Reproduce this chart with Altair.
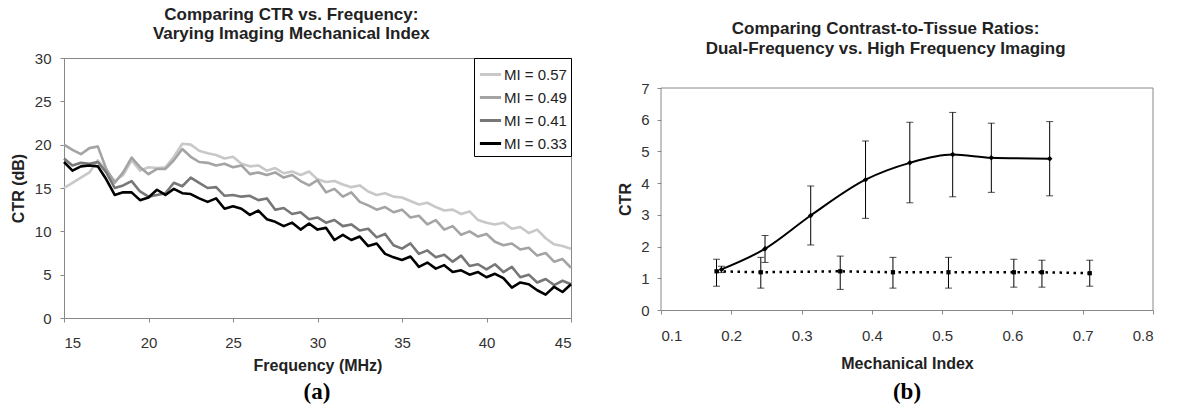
import altair as alt
import pandas as pd

FONT = "Liberation Sans"

# ---------------- Panel (a): CTR vs frequency ----------------
freq = [15.0, 15.5, 16.0, 16.5, 17.0, 17.5, 18.0, 18.5, 19.0, 19.5,
        20.0, 20.5, 21.0, 21.5, 22.0, 22.5, 23.0, 23.5, 24.0, 24.5,
        25.0, 25.5, 26.0, 26.5, 27.0, 27.5, 28.0, 28.5, 29.0, 29.5,
        30.0, 30.5, 31.0, 31.5, 32.0, 32.5, 33.0, 33.5, 34.0, 34.5,
        35.0, 35.5, 36.0, 36.5, 37.0, 37.5, 38.0, 38.5, 39.0, 39.5,
        40.0, 40.5, 41.0, 41.5, 42.0, 42.5, 43.0, 43.5, 44.0, 44.5, 45.0]

mi_057 = [15.0, 15.6, 16.2, 16.8, 18.2, 17.0, 15.8, 16.5, 18.2, 17.0,
          17.4, 17.3, 17.4, 18.6, 20.1, 20.0, 19.3, 19.0, 18.8, 18.4,
          18.6, 17.8, 17.5, 17.6, 17.0, 17.3, 16.7, 16.9, 16.5, 16.9,
          16.0, 15.7, 15.8, 15.4, 15.1, 15.3, 14.6, 14.2, 14.4, 14.0,
          13.9, 13.5, 13.1, 13.3, 12.8, 12.4, 12.5, 12.0, 12.3, 11.3,
          11.0, 10.8, 11.0, 10.3, 10.5, 9.8, 10.2, 9.2, 8.5, 8.3, 8.0]

mi_049 = [20.0, 19.4, 18.9, 19.6, 19.8, 17.2, 15.6, 16.8, 18.5, 17.4,
          16.6, 17.2, 17.2, 18.2, 19.5, 18.6, 18.0, 17.9, 17.6, 17.8,
          17.4, 17.6, 16.6, 16.8, 16.5, 16.8, 16.2, 16.5, 15.8, 15.3,
          15.9, 14.5, 14.9, 14.0, 14.5, 13.4, 13.0, 12.5, 12.8, 12.2,
          12.5, 11.6, 11.8, 10.8, 11.3, 10.2, 10.6, 9.6, 10.0, 9.4,
          9.7, 8.8, 8.4, 8.6, 7.9, 8.1, 7.2, 7.5, 6.5, 6.8, 5.8]

mi_041 = [18.4, 17.6, 17.9, 17.8, 18.0, 16.8, 15.0, 15.3, 15.8, 14.6,
          14.0, 14.2, 14.4, 15.6, 15.2, 16.2, 15.6, 15.0, 15.1, 14.1,
          14.2, 14.0, 14.1, 13.6, 13.8, 12.5, 12.7, 12.0, 12.2, 11.4,
          11.6, 11.0, 11.3, 10.6, 10.8, 10.1, 10.3, 9.3, 9.7, 8.4,
          8.0, 8.6, 7.4, 7.8, 7.0, 7.3, 6.5, 7.2, 6.0, 6.2,
          5.6, 6.2, 5.3, 5.9, 4.7, 5.0, 4.1, 4.5, 3.8, 4.3, 3.9]

mi_033 = [18.0, 17.0, 17.5, 17.6, 17.5, 16.0, 14.2, 14.5, 14.5, 13.6,
          13.9, 14.8, 14.2, 14.9, 14.4, 14.3, 13.8, 13.4, 13.8, 12.6,
          12.9, 12.6, 11.9, 12.4, 11.4, 11.1, 10.6, 11.0, 10.2, 10.9,
          10.2, 10.4, 9.0, 9.6, 9.0, 9.4, 8.3, 8.6, 7.4, 7.0,
          6.7, 7.1, 5.9, 6.4, 5.7, 6.1, 5.3, 5.5, 5.0, 5.3,
          4.7, 5.1, 4.6, 3.5, 4.1, 3.9, 3.2, 2.7, 3.6, 3.0, 3.9]

series_names = ["MI = 0.57", "MI = 0.49", "MI = 0.41", "MI = 0.33"]
series_colors = ["#c8c8c8", "#a4a4a4", "#777777", "#000000"]

rows = []
for k, (name, vals) in enumerate(zip(series_names, [mi_057, mi_049, mi_041, mi_033])):
    for f, v in zip(freq, vals):
        rows.append({"freq": f, "ctr": v, "series": name, "k": k})
df_a = pd.DataFrame(rows)

axis_common = dict(labelFont=FONT, titleFont=FONT, labelFontSize=15, titleFontSize=16,
                   titleFontWeight="bold", labelColor="#333333", titleColor="#222222",
                   domainColor="#888888", tickColor="#888888", tickSize=4, grid=False)

chart_a = alt.Chart(df_a).mark_line(strokeWidth=2.6, strokeJoin="round").encode(
    x=alt.X("freq:Q", scale=alt.Scale(domain=[15, 45], nice=False, zero=False),
            axis=alt.Axis(values=[15, 20, 25, 30, 35, 40, 45], title="Frequency (MHz)",
                          labelPadding=13, titlePadding=7, **axis_common)),
    y=alt.Y("ctr:Q", scale=alt.Scale(domain=[0, 30], nice=False),
            axis=alt.Axis(values=[0, 5, 10, 15, 20, 25, 30], title="CTR (dB)",
                          labelPadding=9, titlePadding=8, **axis_common)),
    color=alt.Color("series:N", sort=series_names,
                    scale=alt.Scale(domain=series_names, range=series_colors),
                    legend=alt.Legend(title=None, orient="top-right", offset=0,
                                      strokeColor="#000000", fillColor="#ffffff",
                                      padding=4, symbolType="stroke", symbolStrokeWidth=3,
                                      symbolSize=450, labelFont=FONT, labelFontSize=15,
                                      labelColor="#222222", rowPadding=2, labelOffset=1)),
    order=alt.Order("k:Q"),
).properties(
    width=507, height=260,
    title=alt.TitleParams(["Comparing CTR vs. Frequency:", "Varying Imaging Mechanical Index"],
                          anchor="middle", frame="bounds", font=FONT, fontSize=17,
                          fontWeight="bold", color="#222222", lineHeight=19, offset=8),
)

panel_a = alt.vconcat(
    chart_a,
    title=alt.TitleParams("(a)", orient="bottom", anchor="middle", frame="group",
                          font="Liberation Serif", fontSize=23, fontWeight="bold",
                          color="#000000", offset=7, dx=253),
).resolve_scale(color="independent").resolve_legend(color="independent")

# ---------------- Panel (b): CTR vs mechanical index ----------------
dual_mi = [0.186, 0.248, 0.313, 0.391, 0.454, 0.515, 0.570, 0.653]
dual_ctr = [1.28, 1.93, 2.98, 4.11, 4.64, 4.90, 4.80, 4.77]
dual_lo = [1.18, 1.50, 2.05, 2.89, 3.38, 3.57, 3.71, 3.60]
dual_hi = [1.38, 2.35, 3.91, 5.33, 5.92, 6.23, 5.89, 5.94]

hf_mi = [0.179, 0.242, 0.355, 0.430, 0.509, 0.602, 0.642, 0.710]
hf_ctr = [1.22, 1.19, 1.22, 1.19, 1.19, 1.19, 1.19, 1.16]
hf_lo = [0.75, 0.69, 0.65, 0.69, 0.69, 0.72, 0.72, 0.75]
hf_hi = [1.60, 1.66, 1.70, 1.66, 1.66, 1.60, 1.57, 1.57]

# plot frame of panel (b): axis limits
mi_min, mi_max = 0.1, 0.8
ctr_min, ctr_max = 0, 7
b_plot_h = 222          # frame height of panel (b)
b_total_h = 252         # panel (b) area aligned with panel (a) plot area
ctr_top = ctr_max * b_total_h / b_plot_h

df_dual = pd.DataFrame({"mi": dual_mi, "ctr": dual_ctr, "lo": dual_lo, "hi": dual_hi})
df_hf = pd.DataFrame({"mi": hf_mi, "ctr": hf_ctr, "lo": hf_lo, "hi": hf_hi})
df_err = pd.concat([df_dual, df_hf], ignore_index=True)
df_frame = pd.DataFrame({"mi": [mi_min, mi_min, mi_max], "mi2": [mi_max, mi_min, mi_max],
                         "ctr": [ctr_max, ctr_min, ctr_min], "ctr2": [ctr_max, ctr_max, ctr_max]})

xb = alt.X("mi:Q", scale=alt.Scale(domain=[mi_min, mi_max], nice=False, zero=False),
           axis=alt.Axis(values=[0.1, 0.2, 0.3, 0.4, 0.5, 0.6, 0.7, 0.8], format=".1f",
                         title="Mechanical Index", labelPadding=14, titlePadding=12,
                         **axis_common))


def yb(field):
    return alt.Y(field, scale=alt.Scale(domain=[ctr_min, ctr_top], nice=False),
                 axis=alt.Axis(values=[0, 1, 2, 3, 4, 5, 6, 7], title="CTR", domain=False,
                               labelPadding=8, titlePadding=7,
                               titleY=b_total_h - b_plot_h / 2, **axis_common))


frame = alt.Chart(df_frame).mark_rule(color="#888888", strokeWidth=1).encode(
    x=xb, x2="mi2:Q", y=yb("ctr:Q"), y2="ctr2:Q")
err_rule = alt.Chart(df_err).mark_rule(color="#000000", strokeWidth=1).encode(
    x=xb, y=yb("lo:Q"), y2="hi:Q")
cap_lo = alt.Chart(df_err).mark_tick(orient="horizontal", size=7, thickness=1,
                                      color="#000000").encode(x=xb, y=yb("lo:Q"))
cap_hi = alt.Chart(df_err).mark_tick(orient="horizontal", size=7, thickness=1,
                                      color="#000000").encode(x=xb, y=yb("hi:Q"))
dual_line = alt.Chart(df_dual).mark_line(color="#000000", strokeWidth=2,
                                         interpolate="monotone").encode(x=xb, y=yb("ctr:Q"))
dual_pts = alt.Chart(df_dual).mark_point(shape="diamond", filled=True, size=30, opacity=1,
                                         color="#000000").encode(x=xb, y=yb("ctr:Q"))
hf_line = alt.Chart(df_hf).mark_line(color="#000000", strokeWidth=2.5,
                                     strokeDash=[2.5, 4.5]).encode(x=xb, y=yb("ctr:Q"))
hf_pts = alt.Chart(df_hf).mark_square(size=18, opacity=1, color="#000000").encode(
    x=xb, y=yb("ctr:Q"))

chart_b = alt.layer(frame, err_rule, cap_lo, cap_hi, hf_line, dual_line, hf_pts,
                    dual_pts).properties(
    width=492, height=b_total_h,
    view=alt.ViewBackground(strokeOpacity=0),
    title=alt.TitleParams(["Comparing Contrast-to-Tissue Ratios:",
                           "Dual-Frequency vs. High Frequency Imaging"],
                          anchor="middle", frame="bounds", font=FONT, fontSize=17,
                          fontWeight="bold", color="#222222", lineHeight=20, offset=0),
)

panel_b = alt.vconcat(
    chart_b,
    title=alt.TitleParams("(b)", orient="bottom", anchor="middle", frame="group",
                          font="Liberation Serif", fontSize=23, fontWeight="bold",
                          color="#000000", offset=10, dx=246),
)

chart = alt.hconcat(panel_a, panel_b, spacing=44).properties(
    padding={"left": 9, "top": 5, "right": 9, "bottom": 2},
    background="#ffffff",
).resolve_scale(color="independent").configure_view(stroke="#888888", strokeWidth=1)

chart.save("out.html", embed_options={"renderer": "svg", "actions": False})
